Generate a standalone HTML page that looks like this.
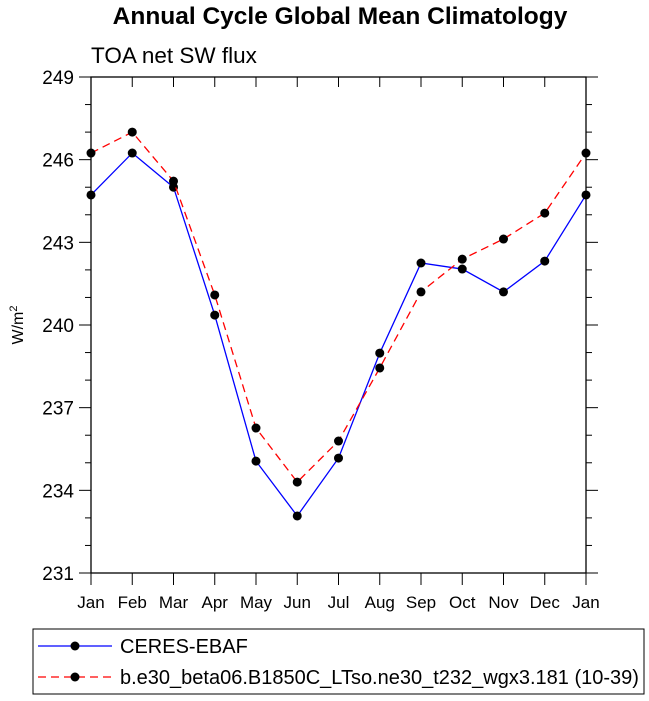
<!DOCTYPE html>
<html><head><meta charset="utf-8"><style>body{margin:0;background:#fff}svg{display:block;font-family:"Liberation Sans",sans-serif}</style></head>
<body>
<svg id="c" width="649" height="701" viewBox="0 0 649 701" xmlns="http://www.w3.org/2000/svg">
<text x="340" y="24" text-anchor="middle" font-size="24.5" font-weight="bold">Annual Cycle Global Mean Climatology</text>
<text x="91" y="63" font-size="22.5">TOA net SW flux</text>
<text transform="translate(23,325) rotate(-90)" text-anchor="middle" font-size="16">W/m<tspan dy="-6" font-size="11">2</tspan></text>
<g id="axes"></g>
<g id="marks"></g>
<g>
<rect x="33" y="629" width="611" height="65" fill="none" stroke="#000" stroke-width="1"/>
<line x1="38" y1="646" x2="112" y2="646" stroke="#00f" stroke-width="1.3"/>
<circle cx="75" cy="646" r="4.5"/>
<text x="120" y="653" font-size="20">CERES-EBAF</text>
<line x1="38" y1="677" x2="112" y2="677" stroke="#f00" stroke-width="1.3" stroke-dasharray="8,5"/>
<circle cx="75" cy="677" r="4.5"/>
<text x="120" y="684" font-size="20">b.e30_beta06.B1850C_LTso.ne30_t232_wgx3.181 (10-39)</text>
</g>
</svg>
<script>
const months=["Jan","Feb","Mar","Apr","May","Jun","Jul","Aug","Sep","Oct","Nov","Dec","Jan"];
const ceres=[244.72,246.24,245.0,240.36,235.06,233.07,235.17,238.98,242.25,242.03,241.2,242.32,244.72];
const model=[246.24,247.0,245.22,241.09,236.26,234.3,235.79,238.44,241.2,242.39,243.12,244.06,246.24];
const yTicks=[231,234,237,240,243,246,249];
const NS="http://www.w3.org/2000/svg";
const L=91,R=586,T=77,B=573,ymin=231,ymax=249;
const xs=i=>L+i*(R-L)/(months.length-1);
const ys=v=>B-(v-ymin)/(ymax-ymin)*(B-T);
function mk(tag,a,p){const e=document.createElementNS(NS,tag);for(const k in a)e.setAttribute(k,a[k]);p.appendChild(e);return e;}
const ax=document.getElementById('axes'),mg=document.getElementById('marks');
const fr=mk('rect',{x:L,y:T,width:R-L,height:B-T,fill:'none',stroke:'#000','stroke-width':1.3},ax);


for(let v=ymin;v<=ymax;v++){const y=ys(v);const maj=(v-ymin)%3===0;const len=maj?12:6;
mk('line',{x1:L-len,y1:y,x2:L,y2:y,stroke:'#000','stroke-width':1},ax);
mk('line',{x1:R,y1:y,x2:R+len,y2:y,stroke:'#000','stroke-width':1},ax);}
yTicks.forEach(v=>{const t=mk('text',{x:L-17,y:ys(v)+7,'text-anchor':'end','font-size':19},ax);t.textContent=v;

});
months.forEach((m,i)=>{const x=xs(i);
mk('line',{x1:x,y1:B,x2:x,y2:B+12,stroke:'#000','stroke-width':1},ax);
mk('line',{x1:x,y1:T,x2:x,y2:T+10,stroke:'#000','stroke-width':1},ax);
const t=mk('text',{x:x,y:B+35,'text-anchor':'middle','font-size':17},ax);t.textContent=m;

});
function series(d,col,dash,name){const p=mk('polyline',{points:d.map((v,i)=>xs(i)+','+ys(v)).join(' '),fill:'none',stroke:col,'stroke-width':1.3},mg);
if(dash)p.setAttribute('stroke-dasharray',dash);


d.forEach((v,i)=>{const c=mk('circle',{cx:xs(i),cy:ys(v),r:4.5,fill:'#000'},mg);

});}
series(ceres,'#00f',null,'ceres');
series(model,'#f00','8,5','model');
</script>
</body></html>
